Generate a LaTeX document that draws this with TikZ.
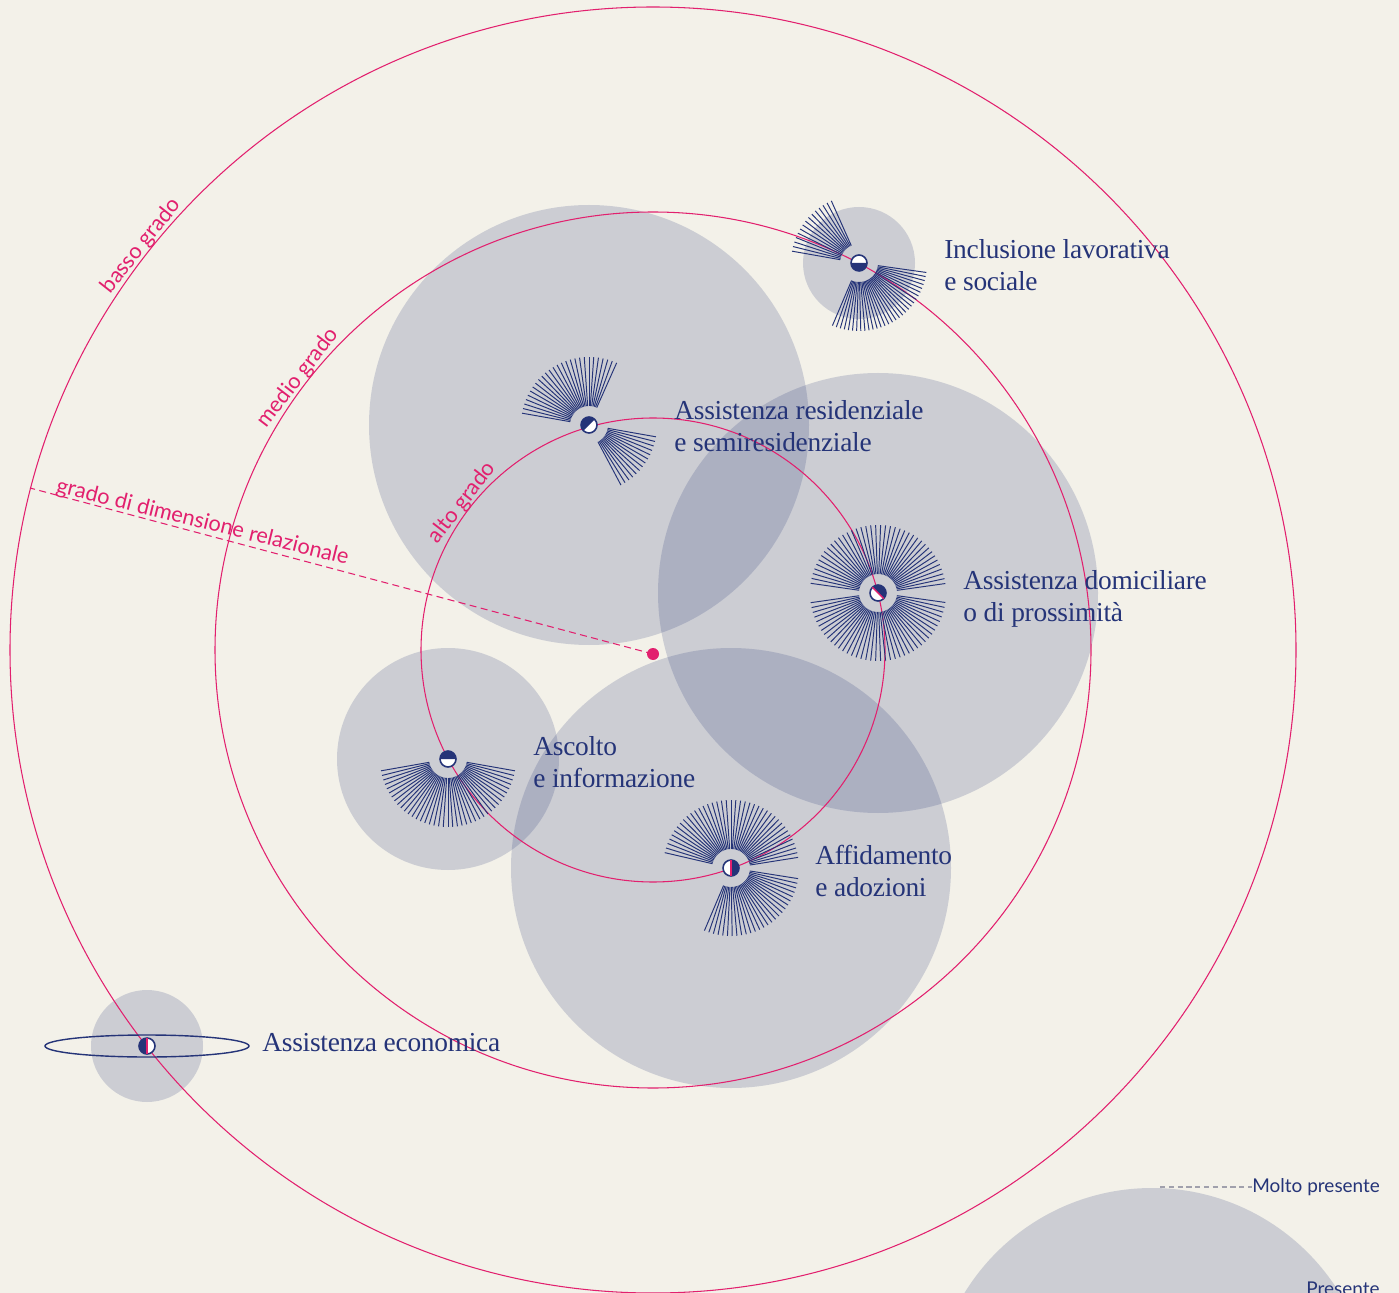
\documentclass[tikz,border=0pt]{standalone}
\usepackage{fontspec}
\usepackage{xcolor}
\usetikzlibrary{calc}

\newfontfamily\gradefont{Lato}
\newfontfamily\servicefont{Liberation Serif}[LetterSpace=-1]

\definecolor{paper}{RGB}{243,241,233}
\definecolor{navy}{RGB}{37,52,120}
\definecolor{rose}{RGB}{226,32,110}
\definecolor{legendgrey}{RGB}{160,160,172}

% rays of a fan round a service, angles counted anticlockwise
\newcommand{\fan}[4]{%
  \foreach \a in {#2,#3,...,#4}
    \draw[ray] ($(#1)+({0-(\a)}:19)$) -- ($(#1)+({0-(\a)}:68)$);}
% half-filled marker, #2 = direction of the dark half
\newcommand{\marker}[2]{%
  \fill[white] (#1) circle (8);
  \fill[navy] ($(#1)+({90-(#2)}:8)$) arc[start angle={90-(#2)}, delta angle=-180, radius=8] -- cycle;
  \draw[navy, line width=0.9pt] (#1) circle (8);}
\newcommand{\split}[2]{%
  \draw[rose, line width=0.8pt] ($(#1)+({90-(#2)}:8)$) -- ($(#1)+({-90-(#2)}:8)$);}

\begin{document}
\begin{tikzpicture}[x=0.02cm, y=-0.02cm,
	bubble/.style={fill=navy, fill opacity=0.19},
	ring/.style={draw=rose, line width=0.6pt},
	ray/.style={draw=navy, line width=0.55pt},
	gradelabel/.style={text=rose, font=\gradefont\fontsize{12.4}{14}\selectfont, inner sep=1pt},
	service/.style={text=navy, font=\servicefont\fontsize{15.6}{18.2}\selectfont,
				align=left, anchor=north west, inner sep=0pt},
	legendlabel/.style={text=navy, font=\gradefont\fontsize{10.8}{12}\selectfont, inner sep=0pt},
]
\fill[paper] (0,0) rectangle (1399,1293);
\useasboundingbox (0,0) rectangle (1399,1293);
\clip (0,0) rectangle (1399,1293);
%
\coordinate (O) at (653,650);
\coordinate (dot) at (653,654);
\coordinate (axisend) at (30,488);
\coordinate (incl) at (859,263);
\coordinate (resid) at (589,425);
\coordinate (domic) at (878,593);
\coordinate (ascolto) at (448,759);
\coordinate (affid) at (731,868);
\coordinate (econ) at (147,1046);
\coordinate (legendbub) at (1152,1408);
%
\fill[bubble] (incl) circle (56);
\fill[bubble] (resid) circle (220);
\fill[bubble] (domic) circle (220);
\fill[bubble] (ascolto) circle (111);
\fill[bubble] (affid) circle (220);
\fill[bubble] (econ) circle (56);
\fill[bubble] (legendbub) circle (220);
%
\draw[ring] (O) circle (232);
\draw[ring] (O) circle (438);
\draw[ring] (O) circle (643);
\draw[rose, line width=0.6pt, dash pattern=on 4pt off 2.5pt] (dot) -- (axisend);
\fill[rose] (dot) circle (6);
%
\node[gradelabel, rotate=51.7, anchor=base] (basso) at ($(O)+(-141.7:646)$) {basso grado};
\node[gradelabel, rotate=52.5, anchor=base] (medio) at ($(O)+(-142.5:441)$) {medio grado};
\node[gradelabel, rotate=52.3, anchor=base] (alto) at ($(O)+(-142.3:235)$) {alto grado};
\node[gradelabel, rotate=-14, anchor=base west, inner sep=0pt] (axislabel) at (55,492)
	{grado di dimensione relazionale};
%
\fan{incl}{114}{118}{172}
\fan{incl}{-8}{-11.5}{-114}
\fan{resid}{66}{70}{172}
\fan{resid}{-10}{-14}{-62}
\fan{domic}{8}{12.2}{172}
\fan{domic}{-8}{-12.2}{-172}
\fan{ascolto}{-10}{-14}{-170}
\fan{affid}{9}{13.05}{171}
\fan{affid}{-9}{-13}{-114}
\draw[navy, line width=0.8pt] (econ) ellipse (102 and 11);
%
\marker{incl}{-90}
\marker{resid}{135}
\marker{domic}{45}
\split{domic}{45}
\marker{ascolto}{90}
\marker{affid}{0}
\split{affid}{0}
\marker{econ}{180}
\split{econ}{180}
%
\node[service] (inclLbl) at (944,239) {Inclusione lavorativa\\e sociale};
\node[service] (residLbl) at (674,400) {Assistenza residenziale\\e semiresidenziale};
\node[service] (domicLbl) at (963,570) {Assistenza domiciliare\\o di prossimità};
\node[service] (ascoltoLbl) at (533,736) {Ascolto\\e informazione};
\node[service] (affidLbl) at (815,845) {Affidamento\\e adozioni};
\node[service] (econLbl) at (262,1033) {Assistenza economica};
%
\coordinate (legendtick) at (1160,1187);
\node[legendlabel, anchor=west] (molto) at (1252,1187) {Molto presente};
\draw[legendgrey, line width=0.6pt, dash pattern=on 3pt off 2pt] (legendtick) -- (molto.west);
\node[legendlabel, anchor=base east] (presente) at (1380,1295) {Presente};
\end{tikzpicture}
\end{document}
